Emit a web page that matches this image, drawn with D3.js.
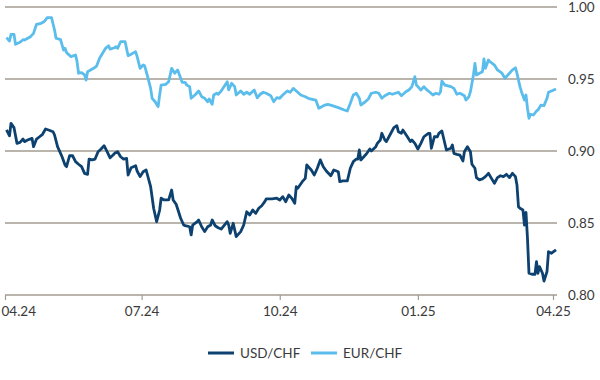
<!DOCTYPE html>
<html>
<head>
<meta charset="utf-8">
<script src="https://cdn.jsdelivr.net/npm/d3@7"></script>
<style>
  html, body { margin: 0; padding: 0; background: #fff; }
  svg { display: block; font-family: Lato, "Open Sans", sans-serif; }
</style>
</head>
<body>
<svg id="chart" width="600" height="380"></svg>
<script>
// ---- data ----
const seriesNames = ["USD/CHF", "EUR/CHF"];
const yTicks = [0.80, 0.85, 0.90, 0.95, 1.00];
const xTickDates = ["2024-04-01", "2024-07-01", "2024-10-01", "2025-01-01", "2025-04-01"];

const usdDates = [
"2024-04-02","2024-04-04","2024-04-05","2024-04-07","2024-04-09","2024-04-11","2024-04-13","2024-04-14","2024-04-16","2024-04-19",
"2024-04-20","2024-04-22","2024-04-24","2024-04-26","2024-04-28","2024-04-30","2024-05-03","2024-05-04","2024-05-06","2024-05-09",
"2024-05-11","2024-05-12","2024-05-14","2024-05-16","2024-05-18","2024-05-20","2024-05-22","2024-05-24","2024-05-26","2024-05-27",
"2024-05-29","2024-05-31","2024-06-02","2024-06-04","2024-06-06","2024-06-08","2024-06-10","2024-06-12","2024-06-13","2024-06-15",
"2024-06-17","2024-06-19","2024-06-21","2024-06-22","2024-06-24","2024-06-27","2024-06-28","2024-06-30","2024-07-02","2024-07-04",
"2024-07-07","2024-07-09","2024-07-11","2024-07-13","2024-07-14","2024-07-16","2024-07-19","2024-07-21","2024-07-22","2024-07-24",
"2024-07-27","2024-07-29","2024-07-30","2024-08-02","2024-08-03","2024-08-04","2024-08-07","2024-08-08","2024-08-10","2024-08-12",
"2024-08-14","2024-08-16","2024-08-17","2024-08-19","2024-08-21","2024-08-23","2024-08-27","2024-08-28","2024-08-29","2024-08-31",
"2024-09-02","2024-09-05","2024-09-07","2024-09-09","2024-09-11","2024-09-13","2024-09-15","2024-09-17","2024-09-19","2024-09-21",
"2024-09-22","2024-09-26","2024-09-29","2024-10-01","2024-10-03","2024-10-05","2024-10-07","2024-10-09","2024-10-11","2024-10-12",
"2024-10-13","2024-10-16","2024-10-18","2024-10-19","2024-10-22","2024-10-24","2024-10-26","2024-10-28","2024-10-30","2024-11-01",
"2024-11-04","2024-11-06","2024-11-09","2024-11-10","2024-11-12","2024-11-15","2024-11-17","2024-11-19","2024-11-21","2024-11-22",
"2024-11-23","2024-11-24","2024-11-26","2024-11-28","2024-11-30","2024-12-01","2024-12-04","2024-12-05","2024-12-07","2024-12-08",
"2024-12-10","2024-12-11","2024-12-14","2024-12-16","2024-12-18","2024-12-19","2024-12-21","2024-12-22","2024-12-25","2024-12-27",
"2024-12-28","2024-12-30","2025-01-01","2025-01-03","2025-01-05","2025-01-08","2025-01-09","2025-01-10","2025-01-12","2025-01-14",
"2025-01-15","2025-01-17","2025-01-20","2025-01-23","2025-01-24","2025-01-25","2025-01-27","2025-01-29","2025-01-31","2025-02-01",
"2025-02-03","2025-02-05","2025-02-06","2025-02-08","2025-02-09","2025-02-11","2025-02-13","2025-02-15","2025-02-17","2025-02-19",
"2025-02-21","2025-02-23","2025-02-25","2025-02-27","2025-03-01","2025-03-03","2025-03-05","2025-03-07","2025-03-08","2025-03-09",
"2025-03-10","2025-03-12","2025-03-13","2025-03-14","2025-03-15","2025-03-16","2025-03-18","2025-03-20","2025-03-21","2025-03-22",
"2025-03-23","2025-03-25","2025-03-26","2025-03-28","2025-03-29","2025-03-31","2025-04-03"];
const usdValues = [
.9146,.9106,.9192,.9162,.9053,.9060,.9083,.9065,.9076,.9088,
.9030,.9083,.9099,.9116,.9153,.9146,.9134,.9111,.9030,.8960,
.8903,.8891,.8967,.8967,.8926,.8908,.8891,.8845,.8838,.8944,
.8938,.8944,.8995,.9014,.9037,.8995,.8953,.8972,.8984,.8995,
.8960,.8944,.8949,.8833,.8884,.8898,.8861,.8822,.8856,.8868,
.8752,.8602,.8509,.8590,.8672,.8660,.8660,.8729,.8660,.8630,
.8533,.8486,.8481,.8474,.8417,.8486,.8509,.8521,.8474,.8440,
.8474,.8486,.8521,.8481,.8467,.8458,.8509,.8486,.8428,.8498,
.8405,.8440,.8486,.8578,.8556,.8590,.8567,.8602,.8620,.8648,
.8667,.8667,.8672,.8660,.8683,.8648,.8694,.8672,.8637,.8752,
.8741,.8787,.8810,.8903,.8868,.8833,.8880,.8938,.8891,.8861,
.8828,.8868,.8856,.8787,.8792,.8792,.8880,.8926,.8944,.8944,
.9007,.8938,.8960,.8984,.9014,.9000,.9030,.9053,.9076,.9123,
.9076,.9065,.9123,.9162,.9176,.9134,.9123,.9146,.9099,.9065,
.9076,.9053,.9014,.9053,.9099,.9123,.9123,.9019,.9099,.9099,
.9123,.9139,.9007,.9019,.9042,.8984,.8977,.8972,.8931,.8995,
.9030,.8995,.8908,.8880,.8815,.8799,.8806,.8822,.8845,.8810,
.8776,.8815,.8828,.8822,.8838,.8815,.8845,.8822,.8764,.8613,
.8602,.8590,.8486,.8574,.8394,.8151,.8144,.8144,.8231,.8151,
.8197,.8151,.8097,.8162,.8301,.8290,.8313];

const eurDates = [
"2024-04-02","2024-04-04","2024-04-05","2024-04-07","2024-04-08","2024-04-11","2024-04-13","2024-04-14","2024-04-18","2024-04-20",
"2024-04-22","2024-04-25","2024-04-27","2024-04-28","2024-04-29","2024-05-02","2024-05-04","2024-05-05","2024-05-08","2024-05-10",
"2024-05-11","2024-05-12","2024-05-15","2024-05-18","2024-05-19","2024-05-20","2024-05-22","2024-05-24","2024-05-25","2024-05-26",
"2024-05-30","2024-06-01","2024-06-03","2024-06-07","2024-06-09","2024-06-10","2024-06-13","2024-06-14","2024-06-15","2024-06-17",
"2024-06-20","2024-06-22","2024-06-24","2024-06-27","2024-06-28","2024-06-30","2024-07-02","2024-07-03","2024-07-05","2024-07-07",
"2024-07-08","2024-07-10","2024-07-12","2024-07-13","2024-07-14","2024-07-17","2024-07-19","2024-07-21","2024-07-23","2024-07-25",
"2024-07-28","2024-07-30","2024-07-31","2024-08-02","2024-08-03","2024-08-06","2024-08-08","2024-08-10","2024-08-12","2024-08-14",
"2024-08-15","2024-08-17","2024-08-18","2024-08-20","2024-08-21","2024-08-23","2024-08-27","2024-08-28","2024-08-30","2024-09-01",
"2024-09-02","2024-09-05","2024-09-07","2024-09-09","2024-09-11","2024-09-14","2024-09-16","2024-09-18","2024-09-20","2024-09-22",
"2024-09-25","2024-09-27","2024-09-29","2024-10-01","2024-10-03","2024-10-06","2024-10-08","2024-10-10","2024-10-12","2024-10-13",
"2024-10-15","2024-10-18","2024-10-20","2024-10-22","2024-10-25","2024-10-27","2024-10-29","2024-10-31","2024-11-02","2024-11-05",
"2024-11-07","2024-11-09","2024-11-13","2024-11-15","2024-11-17","2024-11-19","2024-11-21","2024-11-23","2024-11-24","2024-11-27",
"2024-11-29","2024-12-01","2024-12-04","2024-12-06","2024-12-08","2024-12-10","2024-12-13","2024-12-15","2024-12-17","2024-12-19",
"2024-12-21","2024-12-24","2024-12-26","2024-12-28","2024-12-30","2024-12-31","2025-01-01","2025-01-03","2025-01-05","2025-01-07",
"2025-01-09","2025-01-11","2025-01-13","2025-01-15","2025-01-16","2025-01-17","2025-01-19","2025-01-23","2025-01-25","2025-01-27",
"2025-01-29","2025-02-01","2025-02-02","2025-02-04","2025-02-05","2025-02-07","2025-02-08","2025-02-09","2025-02-11","2025-02-13",
"2025-02-14","2025-02-15","2025-02-17","2025-02-18","2025-02-21","2025-02-23","2025-02-26","2025-02-28","2025-03-03","2025-03-05",
"2025-03-07","2025-03-08","2025-03-10","2025-03-11","2025-03-13","2025-03-14","2025-03-15","2025-03-16","2025-03-17","2025-03-19",
"2025-03-21","2025-03-22","2025-03-24","2025-03-26","2025-03-28","2025-03-29","2025-03-31","2025-04-03"];
const eurValues = [
.9787,.9764,.9810,.9810,.9741,.9755,.9773,.9771,.9794,.9817,
.9880,.9887,.9898,.9910,.9926,.9926,.9840,.9783,.9773,.9701,
.9713,.9683,.9655,.9667,.9620,.9540,.9544,.9528,.9493,.9551,
.9574,.9590,.9644,.9713,.9731,.9708,.9717,.9724,.9713,.9759,
.9759,.9662,.9672,.9690,.9655,.9574,.9597,.9592,.9516,.9435,
.9366,.9342,.9308,.9389,.9458,.9463,.9481,.9574,.9540,.9563,
.9477,.9477,.9458,.9447,.9366,.9394,.9417,.9377,.9366,.9342,
.9361,.9324,.9389,.9401,.9394,.9417,.9481,.9424,.9470,.9447,
.9389,.9417,.9394,.9408,.9394,.9424,.9370,.9394,.9408,.9401,
.9384,.9342,.9370,.9366,.9389,.9417,.9408,.9435,.9417,.9408,
.9389,.9377,.9366,.9361,.9354,.9297,.9308,.9319,.9324,.9315,
.9308,.9301,.9285,.9278,.9331,.9389,.9401,.9366,.9319,.9342,
.9361,.9401,.9408,.9401,.9366,.9384,.9401,.9394,.9401,.9408,
.9384,.9412,.9424,.9447,.9516,.9458,.9447,.9424,.9447,.9424,
.9408,.9389,.9401,.9394,.9408,.9486,.9458,.9447,.9435,.9394,
.9401,.9384,.9354,.9377,.9412,.9528,.9609,.9528,.9540,.9551,
.9639,.9574,.9632,.9620,.9597,.9563,.9540,.9505,.9540,.9563,
.9578,.9540,.9447,.9412,.9354,.9389,.9297,.9227,.9255,.9250,
.9278,.9285,.9319,.9315,.9366,.9408,.9417,.9431];

const colors = ["#0d416f", "#5bbdec"];

// ---- chart ----
const parse = d3.utcParse("%Y-%m-%d");
const svg = d3.select("#chart");

const x = d3.scaleUtc()
  .domain([parse("2024-04-01"), parse("2025-04-01")])
  .range([5, 553]);
const y = d3.scaleLinear().domain([0.80, 1.00]).range([295, 7]);

const gridColor = "#a39d90";

// gridlines
svg.append("g").selectAll("line")
  .data(yTicks.filter(v => v > 0.80))
  .join("line")
  .attr("x1", 5).attr("x2", 557)
  .attr("y1", d => y(d)).attr("y2", d => y(d))
  .attr("stroke", gridColor).attr("stroke-width", 1.5);

// y labels
svg.append("g").selectAll("text")
  .data(yTicks)
  .join("text")
  .attr("x", 568).attr("y", d => y(d))
  .attr("dy", "0.35em")
  .attr("font-size", 13.5).attr("fill", "#3a3a3a")
  .text(d => d3.format(".2f")(d));

// x axis
const xAxis = d3.axisBottom(x)
  .tickValues(xTickDates.map(parse))
  .tickFormat(d3.utcFormat("%m.%y"))
  .tickSize(5).tickSizeOuter(0);
const gx = svg.append("g").attr("transform", `translate(0,${y(0.80)})`).call(xAxis);
gx.select(".domain").attr("stroke", gridColor).attr("stroke-width", 1.5)
  .attr("d", `M5,0H557`);
gx.selectAll(".tick line").attr("stroke", gridColor).attr("stroke-width", 1.2);
gx.selectAll(".tick text").attr("font-size", 13.5).attr("fill", "#3a3a3a")
  .attr("font-family", "Lato, 'Open Sans', sans-serif").attr("y", 11);
// first label sits flush with the left edge, as in the reference
gx.selectAll(".tick text").filter((d, i) => i === 0)
  .attr("text-anchor", "start").attr("x", -4);

// lines
const line = d3.line().x(d => x(d[0])).y(d => y(d[1]));
const series = [
  usdDates.map((d, i) => [parse(d), usdValues[i]]),
  eurDates.map((d, i) => [parse(d), eurValues[i]])
];
svg.append("g").selectAll("path")
  .data([series[1], series[0]])
  .join("path")
  .attr("d", line)
  .attr("fill", "none")
  .attr("stroke", (d, i) => i === 0 ? colors[1] : colors[0])
  .attr("stroke-width", 2.8)
  .attr("stroke-linejoin", "round");

// legend
const legend = svg.append("g").attr("transform", "translate(0,353)");
const legX = [208, 311];
seriesNames.forEach((name, i) => {
  legend.append("line")
    .attr("x1", legX[i]).attr("x2", legX[i] + 26)
    .attr("y1", 0).attr("y2", 0)
    .attr("stroke", colors[i]).attr("stroke-width", 3);
  legend.append("text")
    .attr("x", legX[i] + 32).attr("y", 0).attr("dy", "0.35em")
    .attr("font-size", 13.5).attr("fill", "#3a3a3a")
    .text(name);
});
</script>
</body>
</html>
